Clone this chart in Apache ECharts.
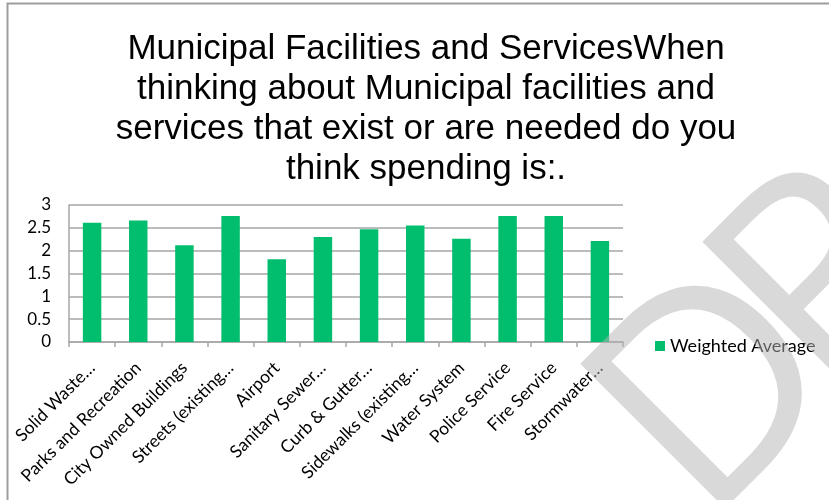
<!DOCTYPE html>
<html>
<head>
<meta charset="utf-8">
<script src="https://cdn.jsdelivr.net/npm/echarts@6/dist/echarts.min.js"></script>
<style>
  html, body { margin: 0; padding: 0; background: #ffffff; }
  #chart { width: 829px; height: 500px; }
</style>
</head>
<body>
<div id="chart"></div>
<script>
// Survey categories (labels as shown, long names abbreviated)
const categories = [
  'Solid Waste…', 'Parks and Recreation', 'City Owned Buildings', 'Streets (existing…',
  'Airport', 'Sanitary Sewer…', 'Curb & Gutter…', 'Sidewalks (existing…',
  'Water System', 'Police Service', 'Fire Service', 'Stormwater…'
];
// Weighted average rating per category
const weightedAverage = [2.61, 2.66, 2.12, 2.76, 1.81, 2.30, 2.47, 2.55, 2.26, 2.76, 2.76, 2.21];
// Value axis ticks
const yTicks = { min: 0, max: 3, interval: 0.5 };

const titleText = 'Municipal Facilities and ServicesWhen\nthinking about Municipal facilities and\nservices that exist or are needed do you\nthink spending is:.';

const chart = echarts.init(document.getElementById('chart'), null, { renderer: 'canvas' });

const bodyFont = 'Lato';
const watermarkFill = 'rgba(180,180,180,0.5)';
const watermarkFont = '287px "Open Sans"';

// one rotated watermark glyph run
function watermarkText(text, x, y) {
  return {
    type: 'text',
    x: x,
    y: y,
    rotation: Math.PI / 4,
    style: {
      text: text,
      x: 0,
      y: 0,
      font: watermarkFont,
      textAlign: 'left',
      textVerticalAlign: 'bottom',
      fill: watermarkFill
    },
    silent: true,
    z: 200
  };
}

chart.setOption({
  animation: false,
  backgroundColor: '#ffffff',
  title: {
    text: titleText,
    left: 421,
    top: 24,
    textAlign: 'center',
    textStyle: {
      fontFamily: 'Liberation Sans',
      fontSize: 35,
      fontWeight: 'normal',
      color: '#000000',
      lineHeight: 40
    }
  },
  legend: {
    data: ['Weighted Average'],
    left: 650,
    top: 332,
    itemWidth: 10,
    itemHeight: 10,
    itemGap: 6,
    icon: 'rect',
    textStyle: { fontFamily: bodyFont, fontSize: 18, color: '#000000', padding: [0, 0, 0, 0] }
  },
  grid: { left: 69, right: 206, top: 205, bottom: 158, containLabel: false },
  xAxis: {
    type: 'category',
    data: categories,
    axisLine: { lineStyle: { color: '#a6a6a6', width: 1.5 } },
    axisTick: { show: true, length: 5, alignWithLabel: false, lineStyle: { color: '#a6a6a6', width: 1.5 } },
    axisLabel: {
      interval: 0,
      rotate: 45,
      margin: 23,
      fontFamily: bodyFont,
      fontSize: 17.5,
      color: '#000000'
    }
  },
  yAxis: {
    type: 'value',
    min: yTicks.min,
    max: yTicks.max,
    interval: yTicks.interval,
    axisLine: { show: true, lineStyle: { color: '#a6a6a6', width: 1.5 } },
    axisTick: { show: false },
    splitLine: { lineStyle: { color: '#a6a6a6', width: 1.5 } },
    axisLabel: { fontFamily: bodyFont, fontSize: 17, color: '#000000', margin: 18 }
  },
  series: [{
    name: 'Weighted Average',
    type: 'bar',
    data: weightedAverage,
    barWidth: '40%',
    itemStyle: { color: '#00be6e' }
  }],
  graphic: [
    // outer chart frame
    {
      type: 'rect',
      shape: { x: 7.5, y: 3.5, width: 900, height: 600 },
      style: { fill: 'none', stroke: '#9d9d9d', lineWidth: 2 },
      silent: true,
      z: 100
    },
    // document watermark
    watermarkText('D', 749, 572),
    watermarkText('RAFT', 871, 450)
  ]
});
</script>
</body>
</html>
